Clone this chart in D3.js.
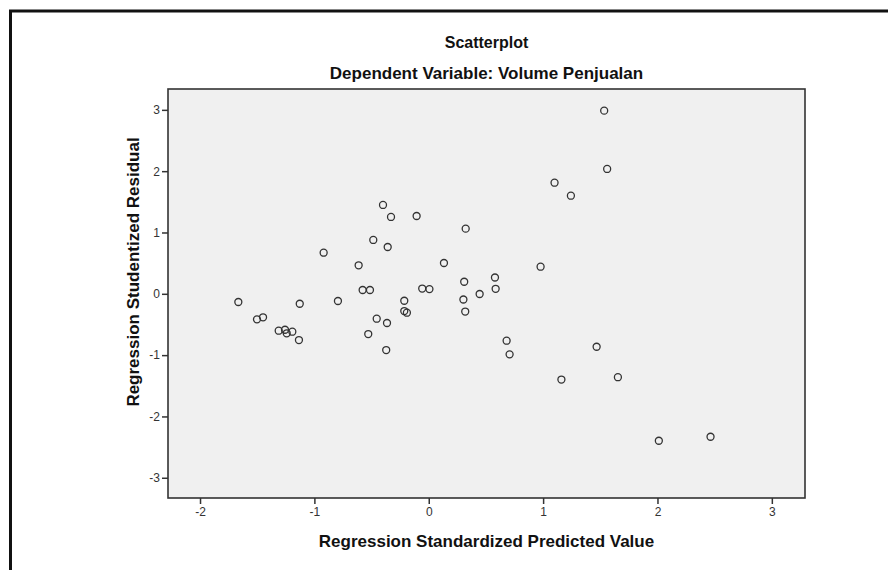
<!DOCTYPE html>
<html>
<head>
<meta charset="utf-8">
<script src="https://cdn.jsdelivr.net/npm/d3@7"></script>
<style>
  body { margin: 0; background: #fff; }
  text { font-family: Arial, "Liberation Sans", sans-serif; }
</style>
</head>
<body>
<div id="chart"></div>
<script>
const predicted = [
  1.534, 1.560, 1.100, 1.243, -0.400, -0.330, -0.106, 0.323, -0.485, -0.359,
  -0.919, -0.613, 0.133, 0.978, 0.310, 0.579, 0.585, 0.445, -0.578, -0.514,
  -0.057, 0.006, -1.665, -1.128, -0.794, -0.214, 0.303, 0.319, -0.214, -0.191,
  -1.502, -1.449, -0.455, -0.365, -1.312, -1.257, -1.242, -1.193, -1.135, -0.529,
  -0.372, 0.681, 0.707, 1.468, 1.160, 1.654, 2.012, 2.464
];
const residual = [
  2.987, 2.036, 1.812, 1.600, 1.449, 1.253, 1.269, 1.062, 0.878, 0.763,
  0.670, 0.465, 0.502, 0.442, 0.197, 0.266, 0.082, -0.003, 0.062, 0.062,
  0.086, 0.077, -0.134, -0.162, -0.117, -0.113, -0.093, -0.289, -0.281, -0.308,
  -0.416, -0.383, -0.406, -0.476, -0.602, -0.586, -0.644, -0.618, -0.754, -0.656,
  -0.917, -0.765, -0.987, -0.863, -1.398, -1.360, -2.396, -2.331
];
const xTicks = [-2, -1, 0, 1, 2, 3];
const yTicks = [-3, -2, -1, 0, 1, 2, 3];
const title = 'Scatterplot';
const subtitle = 'Dependent Variable: Volume Penjualan';
const xLabel = 'Regression Standardized Predicted Value';
const yLabel = 'Regression Studentized Residual';

const config = {
  width: 888,
  height: 570,
  marginLeft: 168,
  marginRight: 83,
  marginTop: 89,
  marginBottom: 72
};
config.plotWidth = config.width - config.marginLeft - config.marginRight;
config.plotHeight = config.height - config.marginTop - config.marginBottom;

const svg = d3.select('#chart').append('svg')
  .attr('width', config.width)
  .attr('height', config.height);

// outer frame, only its top and left edges fall on the page
svg.append('rect')
  .attr('x', 10.5)
  .attr('y', 11)
  .attr('width', config.width + 20)
  .attr('height', config.height + 20)
  .style('fill', 'none')
  .style('stroke', '#111')
  .style('stroke-width', 3);

const x = d3.scaleLinear().domain([-2.28, 3.29]).range([0, config.plotWidth]);
const y = d3.scaleLinear().domain([-3.33, 3.34]).range([config.plotHeight, 0]);

const g = svg.append('g')
  .attr('transform', 'translate(' + config.marginLeft + ',' + config.marginTop + ')');

g.append('rect')
  .attr('width', config.plotWidth)
  .attr('height', config.plotHeight)
  .style('fill', '#f0f0f0')
  .style('stroke', '#333')
  .style('stroke-width', 1.6);

const fmt = d => String(d);
const xAxis = g.append('g')
  .attr('transform', 'translate(0,' + config.plotHeight + ')')
  .call(d3.axisBottom(x).tickValues(xTicks).tickSize(6).tickPadding(3).tickFormat(fmt));
const yAxis = g.append('g')
  .call(d3.axisLeft(y).tickValues(yTicks).tickSize(6).tickPadding(2).tickFormat(fmt));

[xAxis, yAxis].forEach(ax => {
  ax.select('.domain').remove();
  ax.selectAll('line').style('stroke', '#333').style('stroke-width', 1.5);
  ax.selectAll('text')
    .style('font-size', '12px')
    .style('fill', '#333')
    .style('font-family', 'Arial, "Liberation Sans", sans-serif');
});

g.selectAll('circle.pt')
  .data(predicted.map((p, i) => [p, residual[i]]))
  .join('circle')
  .attr('class', 'pt')
  .attr('cx', d => x(d[0]))
  .attr('cy', d => y(d[1]))
  .attr('r', 3.5)
  .style('fill', 'none')
  .style('stroke', '#333')
  .style('stroke-width', 1.3);

const cx = config.marginLeft + config.plotWidth / 2;
const addTitle = (tx, ty, size, txt) => svg.append('text')
  .attr('x', tx).attr('y', ty)
  .attr('text-anchor', 'middle')
  .style('font-size', size + 'px').style('font-weight', 'bold')
  .style('fill', '#111')
  .text(txt);
addTitle(cx, 48, 16, title);
addTitle(cx, 79, 17, subtitle);
addTitle(cx, 547, 17, xLabel);
svg.append('text')
  .attr('transform', 'translate(139,272) rotate(-90)')
  .attr('text-anchor', 'middle')
  .style('font-size', '17px').style('font-weight', 'bold')
  .style('fill', '#111')
  .text(yLabel);
</script>
</body>
</html>
